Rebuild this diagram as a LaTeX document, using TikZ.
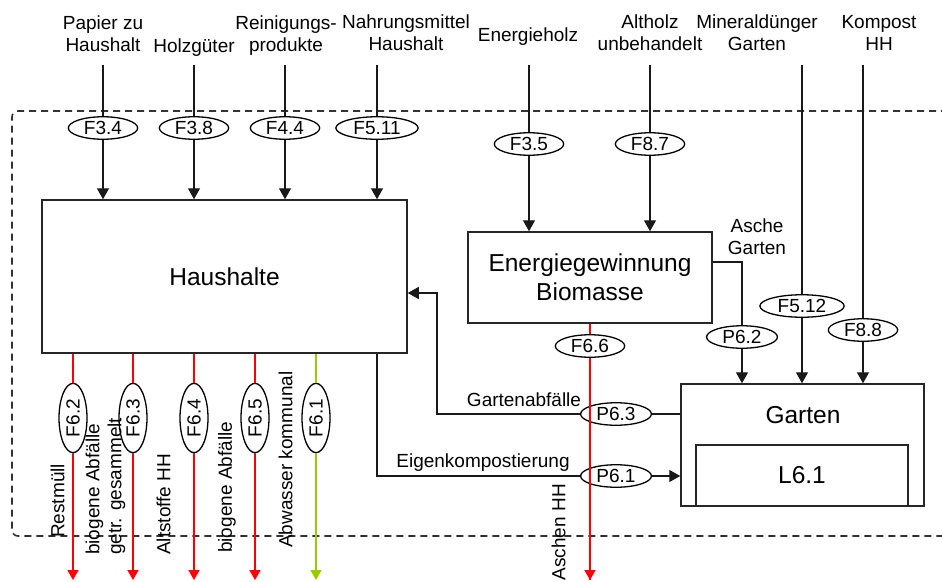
\documentclass[tikz,border=0pt]{standalone}
\usepackage{fontspec}
\setmainfont{Liberation Sans}
\usetikzlibrary{shapes.geometric,arrows.meta}
\definecolor{flowred}{RGB}{255,0,0}
\definecolor{flowgreen}{RGB}{153,204,0}
\begin{document}
\begin{tikzpicture}[x=1pt,y=-1pt,
  lbl/.style={font=\fontsize{19}{22}\selectfont, inner sep=0pt, align=center},
  vlbl/.style={lbl, rotate=90, anchor=west, align=left},
  big/.style={font=\fontsize{24.5}{29}\selectfont},
  proc/.style={draw=black!85, line width=1.5pt, fill=white, big, align=center, inner sep=0pt},
  flowid/.style={ellipse, draw=black, line width=1.3pt, fill=white,
    font=\fontsize{19}{22}\selectfont, inner xsep=5.5pt, inner ysep=0pt, minimum height=22.5pt},
  vflowid/.style={flowid, rotate=90, minimum height=28pt},
  conn/.style={line width=1.4pt, draw=black!90},
  arr/.style={conn, -{Triangle[width=12pt,length=11pt]}},
  redarr/.style={line width=1.4pt, draw=flowred, -{Triangle[width=11pt,length=10pt]}},
  greenarr/.style={line width=1.4pt, draw=flowgreen, -{Triangle[width=11pt,length=10pt]}},
  sysbound/.style={draw=black!80, line width=1.6pt, dash pattern=on 7pt off 5pt, rounded corners=6pt}
]
\useasboundingbox (0,0) rectangle (942,581);

% system boundary
\draw[sysbound] (960,111) -- (12,111) -- (12,536) -- (960,536);

% processes
\node[proc, minimum width=365pt, minimum height=153pt] (hh) at (224.5,276.5) {Haushalte};
\node[proc, minimum width=244pt, minimum height=91pt] (eg) at (590,277.5) {Energiegewinnung\\Biomasse};
\node[proc, minimum width=243pt, minimum height=122pt] (ga) at (802.5,445) {};
\node[big, inner sep=0pt] (gat) at (803,415) {Garten};
\node[proc, minimum width=212pt, minimum height=61pt] (l61) at (802,475.5) {L6.1};

% input labels
\node[lbl] (lpap) at (103,33.7) {Papier zu\\Haushalt};
\node[lbl, anchor=base] (lholz) at (194,52) {Holzgüter};
\node[lbl] (lrein) at (286,35.7) {Reinigungs-\\produkte};
\node[lbl] (lnahr) at (406,33) {Nahrungsmittel\\Haushalt};
\node[lbl, anchor=base] (lenerg) at (528,41) {Energieholz};
\node[lbl] (lalt) at (650,33) {Altholz\\unbehandelt};
\node[lbl] (lmin) at (757,33) {Mineraldünger\\Garten};
\node[lbl] (lkomp) at (879,33) {Kompost\\HH};

% input line starts
\coordinate (s1) at (103,65);
\coordinate (s2) at (194,65);
\coordinate (s3) at (285,65);
\coordinate (s4) at (377,65);
\coordinate (s5) at (529,65);
\coordinate (s6) at (650,65);
\coordinate (s7) at (802,65);
\coordinate (s8) at (863,65);

% output line ends
\coordinate (e1) at (73,580);
\coordinate (e2) at (133,580);
\coordinate (e3) at (194,580);
\coordinate (e4) at (255,580);
\coordinate (e5) at (316,580);
\coordinate (e6) at (590,580);
\coordinate (gbend) at (437,293);

% flow identifiers
\node[flowid] (f34) at (103,128) {F3.4};
\node[flowid] (f38) at (194,128) {F3.8};
\node[flowid] (f44) at (285,128) {F4.4};
\node[flowid] (f511) at (377,128) {F5.11};
\node[flowid] (f35) at (529,144) {F3.5};
\node[flowid] (f87) at (650,144) {F8.7};
\node[flowid] (f512) at (802,306) {F5.12};
\node[flowid] (f88) at (863,330) {F8.8};
\node[flowid] (p62) at (742,337) {P6.2};
\node[flowid] (f66) at (590,346) {F6.6};
\node[flowid] (p63) at (616,414) {P6.3};
\node[flowid] (p61) at (616,476) {P6.1};
\node[vflowid] (f62) at (73,418) {F6.2};
\node[vflowid] (f63) at (133,418) {F6.3};
\node[vflowid] (f64) at (194,418) {F6.4};
\node[vflowid] (f65) at (255,418) {F6.5};
\node[vflowid] (f61) at (316,418) {F6.1};

% inputs
\draw[arr] (s1) -- (f34) -- (f34 |- hh.north);
\draw[arr] (s2) -- (f38) -- (f38 |- hh.north);
\draw[arr] (s3) -- (f44) -- (f44 |- hh.north);
\draw[arr] (s4) -- (f511) -- (f511 |- hh.north);
\draw[arr] (s5) -- (f35) -- (f35 |- eg.north);
\draw[arr] (s6) -- (f87) -- (f87 |- eg.north);
\draw[arr] (s7) -- (f512) -- (f512 |- ga.north);
\draw[arr] (s8) -- (f88) -- (f88 |- ga.north);

% internal flows
\draw[arr] ([yshift=15.5pt]eg.east) -| (p62) -- (p62 |- ga.north);
\draw[conn] (ga.west |- p63) -- (p63);
\draw[arr] (p63) -| (gbend) -- (gbend -| hh.east);
\draw[conn] (s4 |- hh.south) |- (p61);
\draw[arr] (p61) -- (p61 -| ga.west);

% outputs
\draw[redarr] (e1 |- hh.south) -- (f62) -- (e1);
\draw[redarr] (e2 |- hh.south) -- (f63) -- (e2);
\draw[redarr] (e3 |- hh.south) -- (f64) -- (e3);
\draw[redarr] (e4 |- hh.south) -- (f65) -- (e4);
\draw[greenarr] (e5 |- hh.south) -- (f61) -- (e5);
\draw[redarr] (eg.south) -- (f66) -- (e6);
\draw[flowred, line width=1.4pt] (f66) -- (e6);

% flow labels
\node[lbl] (lasche) at (757,237) {Asche\\Garten};
\node[lbl, anchor=base] (lgab) at (524,406) {Gartenabfälle};
\node[lbl, anchor=base] (leig) at (483,467) {Eigenkompostierung};
\node[vlbl] (lrest) at (57.5,538) {Restmüll};
\node[vlbl] (lbio1) at (105.5,555) {biogene Abfälle\\getr. gesammelt};
\node[vlbl] (lalts) at (163.5,555) {Altstoffe HH};
\node[vlbl] (lbio2) at (227,553) {biogene Abfälle};
\node[vlbl] (labw) at (285.5,548) {Abwasser kommunal};
\node[lbl, rotate=90, anchor=east] (lasch) at (558.5,484) {Aschen HH};
\end{tikzpicture}
\end{document}
